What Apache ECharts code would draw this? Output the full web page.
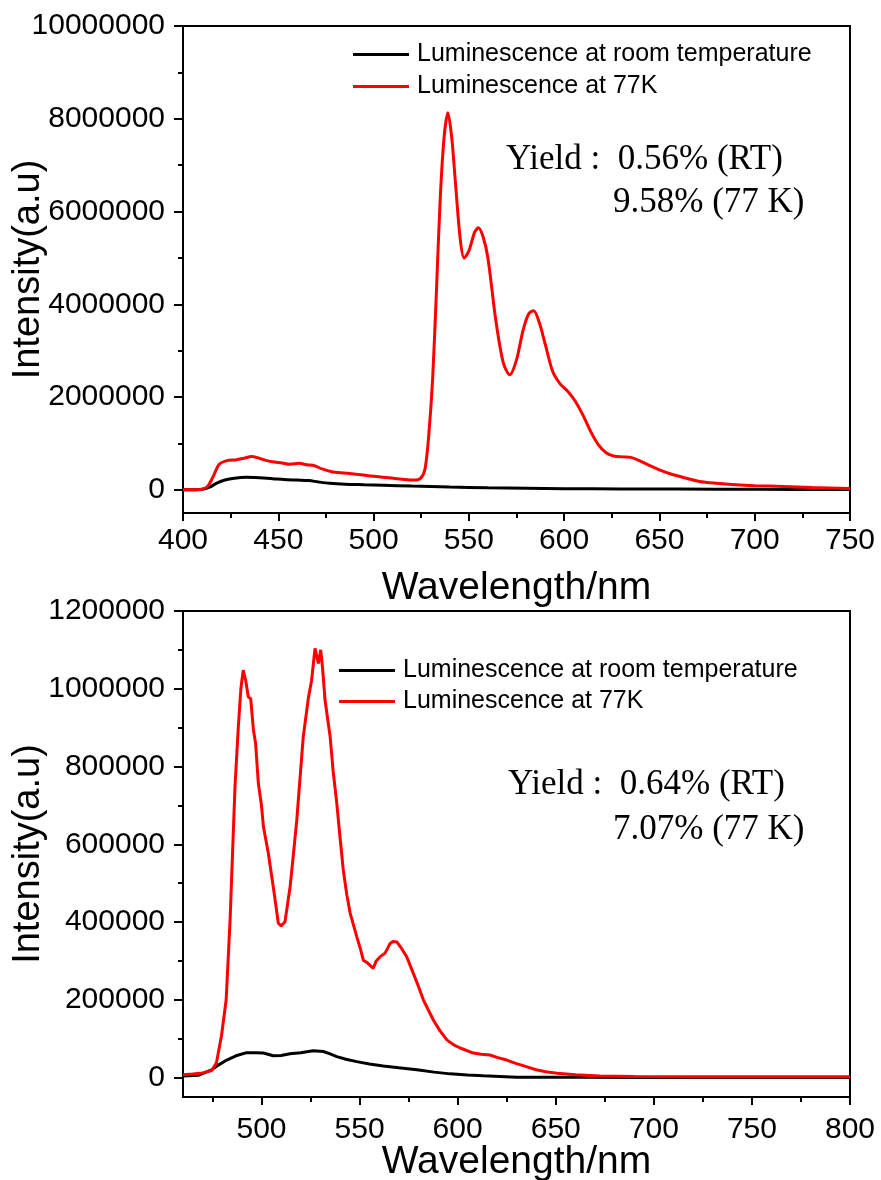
<!DOCTYPE html>
<html>
<head>
<meta charset="utf-8">
<script src="https://cdn.jsdelivr.net/npm/echarts@6/dist/echarts.min.js"></script>
<style>
  html, body { margin: 0; padding: 0; background: #fff; }
  #main { width: 881px; height: 1180px; }
</style>
</head>
<body>
<div id="main"></div>
<script>
// legend names
var nameRT = 'Luminescence at room temperature';
var name77 = 'Luminescence at 77K';

// upper panel: [wavelength nm, intensity]
var topRT = [
  [400, 0], [405, 0], [410, 10000], [414, 60000], [418, 150000], [422, 210000],
  [427, 250000], [433, 270000], [440, 260000], [447, 240000], [453, 220000],
  [460, 210000], [466, 200000], [471, 170000], [477, 140000], [485, 120000],
  [495, 110000], [505, 100000], [520, 80000], [540, 60000], [560, 45000],
  [580, 35000], [600, 25000], [630, 20000], [660, 15000], [700, 10000], [750, 5000]
];
var top77 = [
  [400, 0], [405, 0], [410, 10000], [413, 80000], [416, 300000], [419, 550000],
  [423, 630000], [428, 650000], [432, 680000], [436, 720000], [440, 680000],
  [444, 630000], [448, 600000], [452, 580000], [456, 550000], [461, 570000],
  [465, 540000], [469, 520000], [473, 450000], [478, 390000], [485, 360000],
  [492, 330000], [500, 290000], [508, 260000], [515, 230000], [521, 210000],
  [524.5, 240000], [527, 450000], [529, 1200000], [531, 2400000], [533, 4300000],
  [535, 6300000], [537, 7600000], [539, 8130000], [541, 7600000], [543, 6600000],
  [545.5, 5400000], [547.5, 5000000], [550, 5150000], [553, 5550000], [555, 5650000],
  [557.5, 5450000], [560, 5000000], [564, 3700000], [568, 2750000], [571.5, 2480000],
  [575, 2800000], [578.5, 3450000], [581.5, 3800000], [584, 3860000], [587, 3600000],
  [590, 3150000], [594, 2550000], [598, 2280000], [602, 2120000], [606, 1900000],
  [610, 1600000], [614, 1250000], [618, 970000], [622, 800000], [626, 730000],
  [631, 710000], [635, 700000], [640, 620000], [645, 520000], [650, 430000],
  [656, 340000], [663, 260000], [671, 180000], [680, 140000], [690, 110000],
  [700, 90000], [715, 70000], [730, 50000], [750, 30000]
];

// lower panel: [wavelength nm, intensity]
var botRT = [
  [460, 4000], [468, 6000], [474.6, 20000], [478, 32000], [482.3, 45000],
  [487, 56000], [492.5, 64000], [497, 64000], [501, 63000], [506, 56000],
  [510, 57000], [514.5, 61000], [520, 64000], [526.4, 69000], [531.5, 67000],
  [535, 61000], [538.4, 54000], [543, 47000], [548.6, 41000], [555, 35000],
  [562.1, 30000], [570, 25000], [579.2, 20000], [588, 14000], [596.2, 9500],
  [605, 6500], [613.1, 4400], [630, 1000], [660, 500], [700, 0], [750, 0], [800, 0]
];
var bot77 = [
  [460, 7000], [465, 9000], [470, 12000], [474.6, 18000], [477, 37000],
  [479.7, 110000], [482, 200000], [484, 405000], [486.5, 748000], [488.2, 902000],
  [489.5, 1000000], [490.7, 1048000], [492, 1020000], [493.3, 979000], [494.5, 975000],
  [495.9, 894000], [497, 860000], [498.4, 757000], [500, 700000], [501, 645000],
  [503.5, 577000], [506, 491000], [508.6, 397000], [510, 390000], [512, 401000],
  [514.6, 491000], [516, 560000], [518, 662000], [519.5, 760000], [521.3, 877000],
  [524, 979000], [525.5, 1020000], [527.3, 1104000], [529, 1065000], [530.2, 1100000],
  [531.2, 1050000], [532.4, 971000], [535, 877000], [536.5, 790000], [538.4, 705000],
  [540, 620000], [541.7, 534000], [543.5, 470000], [545.2, 423000], [548.6, 362000],
  [550.5, 330000], [551.9, 302000], [554, 295000], [557, 281000], [558.5, 300000],
  [560.5, 311000], [563, 320000], [565.6, 345000], [567, 350000], [569, 349000],
  [571, 335000], [574, 311000], [577.4, 268000], [580, 235000], [582.5, 200000],
  [587.6, 148000], [591, 120000], [594.5, 97000], [598, 84000], [601.3, 76000],
  [608, 63000], [612, 60000], [616.5, 58000], [620, 52000], [625, 45000],
  [630, 36000], [635, 28000], [640, 20000], [645, 15000], [650.6, 11000],
  [660, 7000], [672.6, 4000], [690, 3000], [720, 2000], [760, 2000], [800, 2000]
];

// tick values
var topYTicks = [0, 2000000, 4000000, 6000000, 8000000, 10000000];
var topYMinor = [1000000, 3000000, 5000000, 7000000, 9000000];
var botXTicks = [500, 550, 600, 650, 700, 750, 800];
var botXMinor = [475, 525, 575, 625, 675, 725, 775];
var botYTicks = [0, 200000, 400000, 600000, 800000, 1000000, 1200000];
var botYMinor = [100000, 300000, 500000, 700000, 900000, 1100000];

var sans = '"Liberation Sans", Arial, sans-serif';
var serif = '"Liberation Serif", "Times New Roman", serif';

var chart = echarts.init(document.getElementById('main'));

function plain(v) { return String(v); }

function majorX(grid, extra) {
  return Object.assign({
    type: 'value', gridIndex: grid, position: 'bottom',
    axisLine: { show: true, onZero: false, lineStyle: { color: '#000', width: 2 } },
    axisTick: { show: true, inside: false, length: 8, lineStyle: { color: '#000', width: 2 } },
    axisLabel: { color: '#000', fontFamily: sans, fontSize: 30, formatter: plain },
    splitLine: { show: false },
    nameLocation: 'middle', nameMoveOverlap: false,
    nameTextStyle: { color: '#000', fontFamily: sans, fontSize: 39 }
  }, extra);
}
function majorY(grid, extra) {
  return Object.assign({
    type: 'value', gridIndex: grid, position: 'left',
    axisLine: { show: true, onZero: false, lineStyle: { color: '#000', width: 2 } },
    axisTick: { show: true, inside: false, length: 9, lineStyle: { color: '#000', width: 2 } },
    axisLabel: { color: '#000', fontFamily: sans, fontSize: 30, margin: 18, formatter: plain },
    splitLine: { show: false },
    nameLocation: 'middle', nameGap: 135, nameMoveOverlap: false,
    nameTextStyle: { color: '#000', fontFamily: sans, fontSize: 38 }
  }, extra);
}
function minorAxis(grid, pos, min, max, vals) {
  return {
    type: 'value', gridIndex: grid, position: pos, min: min, max: max,
    axisLine: { show: false, onZero: false },
    axisTick: { show: true, inside: false, length: 5, customValues: vals, lineStyle: { color: '#000', width: 2 } },
    axisLabel: { show: false },
    splitLine: { show: false }
  };
}

function legendAt(left, top, gap) {
  return {
    left: left, top: top, orient: 'vertical', padding: 0,
    itemWidth: 56, itemHeight: 3, itemGap: gap, icon: 'rect',
    textStyle: { color: '#000', fontFamily: sans, fontSize: 25, lineHeight: 25, padding: [0, 0, 0, 3] },
    data: [nameRT, name77],
    selectedMode: false
  };
}

function yieldText(x, y, txt) {
  return {
    type: 'text', x: x, y: y, silent: true,
    style: { text: txt, font: '35px ' + serif, fill: '#000', align: 'left', verticalAlign: 'middle' }
  };
}

chart.setOption({
  backgroundColor: '#fff',
  animation: false,
  grid: [
    { left: 183, top: 26, width: 667, height: 487, show: true, borderColor: '#000', borderWidth: 2,
      containLabel: false, outerBoundsMode: 'none' },
    { left: 183, top: 611, width: 667, height: 486, show: true, borderColor: '#000', borderWidth: 2,
      containLabel: false, outerBoundsMode: 'none' }
  ],
  xAxis: [
    majorX(0, {
      min: 400, max: 750, interval: 50, name: 'Wavelength/nm', nameGap: 56,
      axisLabel: { color: '#000', fontFamily: sans, fontSize: 30, margin: 13, formatter: plain },
      minorTick: { show: true, splitNumber: 2, length: 5, lineStyle: { color: '#000', width: 2 } }
    }),
    majorX(1, {
      min: 460, max: 800, name: 'Wavelength/nm', nameGap: 46,
      axisTick: { show: true, inside: false, length: 8, customValues: botXTicks, lineStyle: { color: '#000', width: 2 } },
      axisLabel: { color: '#000', fontFamily: sans, fontSize: 30, margin: 18, customValues: botXTicks, formatter: plain }
    }),
    minorAxis(1, 'bottom', 460, 800, botXMinor)
  ],
  yAxis: [
    majorY(0, {
      min: -500000, max: 10000000, name: 'Intensity(a.u)',
      axisTick: { show: true, inside: false, length: 9, customValues: topYTicks, lineStyle: { color: '#000', width: 2 } },
      axisLabel: { color: '#000', fontFamily: sans, fontSize: 30, margin: 18, customValues: topYTicks, formatter: plain }
    }),
    minorAxis(0, 'left', -500000, 10000000, topYMinor),
    majorY(1, {
      min: -50000, max: 1200000, name: 'Intensity(a.u)',
      axisTick: { show: true, inside: false, length: 9, customValues: botYTicks, lineStyle: { color: '#000', width: 2 } },
      axisLabel: { color: '#000', fontFamily: sans, fontSize: 30, margin: 18, customValues: botYTicks, formatter: plain }
    }),
    minorAxis(1, 'left', -50000, 1200000, botYMinor)
  ],
  legend: [legendAt(353, 42, 7), legendAt(339, 658, 6)],
  series: [
    { name: nameRT, type: 'line', xAxisIndex: 0, yAxisIndex: 0, data: topRT, showSymbol: false,
      smooth: 0.3, color: '#000', lineStyle: { color: '#000', width: 3 } },
    { name: name77, type: 'line', xAxisIndex: 0, yAxisIndex: 0, data: top77, showSymbol: false,
      smooth: 0.3, color: '#f00', lineStyle: { color: '#f00', width: 3 } },
    { name: nameRT, type: 'line', xAxisIndex: 1, yAxisIndex: 2, data: botRT, showSymbol: false,
      color: '#000', lineStyle: { color: '#000', width: 3 } },
    { name: name77, type: 'line', xAxisIndex: 1, yAxisIndex: 2, data: bot77, showSymbol: false,
      color: '#f00', lineStyle: { color: '#f00', width: 3 } }
  ],
  graphic: [
    yieldText(506, 160, 'Yield :  0.56% (RT)'),
    yieldText(613, 203, '9.58% (77 K)'),
    yieldText(508, 785, 'Yield :  0.64% (RT)'),
    yieldText(613, 830, '7.07% (77 K)')
  ]
});
</script>
</body>
</html>
